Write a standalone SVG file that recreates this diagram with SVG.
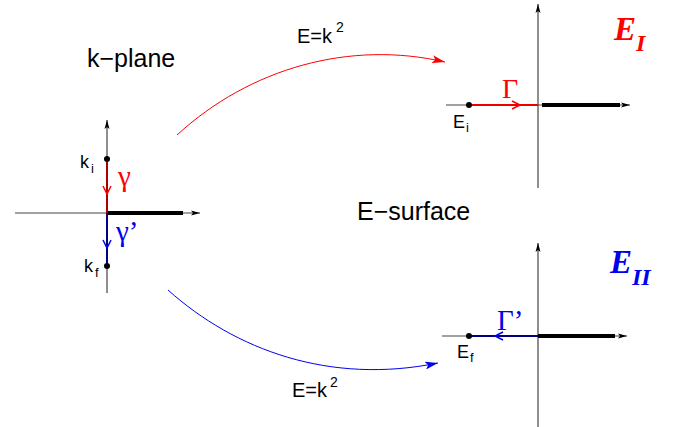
<svg xmlns="http://www.w3.org/2000/svg" width="674" height="427" viewBox="0 0 674 427">
<defs>
<style>
.ax{stroke:#444;stroke-width:1.2;fill:none}
.thick{stroke:#000;stroke-width:4;fill:none}
.sans{font-family:"Liberation Sans",Arial,sans-serif;fill:#000}
.serif{font-family:"Liberation Serif","Times New Roman",serif}
.red{fill:#ff0000}
.blue{fill:#0000ee}
</style>
<marker id="axh" markerWidth="10" markerHeight="6" refX="9" refY="3" orient="auto" markerUnits="userSpaceOnUse"><path d="M0,0.5 L9,3 L0,5.5 L2,3 Z" fill="#000"/></marker>
<marker id="redh" markerWidth="14" markerHeight="8" refX="13" refY="4" orient="auto" markerUnits="userSpaceOnUse"><path d="M0,0 L13,4 L0,8 L3,4 Z" fill="#ff0000"/></marker>
<marker id="blueh" markerWidth="14" markerHeight="8" refX="13" refY="4" orient="auto" markerUnits="userSpaceOnUse"><path d="M0,0 L13,4 L0,8 L3,4 Z" fill="#0000ee"/></marker>
</defs>
<rect width="674" height="427" fill="#fff"/>

<g id="k-plane">
<text class="sans" x="87" y="67" font-size="25">k−plane</text>
<line class="ax" x1="15" y1="213" x2="200" y2="213" marker-end="url(#axh)"/>
<line class="ax" x1="107" y1="293" x2="107" y2="120" marker-end="url(#axh)"/>
<line class="thick" x1="107" y1="213" x2="183" y2="213"/>
<line x1="107" y1="159" x2="107" y2="213" stroke="#aa0000" stroke-width="2"/>
<polyline points="103,186 107,194 111,186" fill="none" stroke="#ff0000" stroke-width="1.5"/>
<line x1="107" y1="213" x2="107" y2="266" stroke="#000080" stroke-width="2"/>
<polyline points="103,240 107,248 111,240" fill="none" stroke="#0000ee" stroke-width="1.5"/>
<circle cx="107" cy="159" r="3" fill="#000"/>
<circle cx="107" cy="266" r="3" fill="#000"/>
<text class="sans" x="80" y="168" font-size="18">k<tspan font-size="13" dx="2" dy="5">i</tspan></text>
<text class="sans" x="84" y="272" font-size="18">k<tspan font-size="13" dx="2" dy="5">f</tspan></text>
<text class="serif red" x="118" y="186" font-size="29">γ</text>
<text class="serif blue" x="116" y="241" font-size="29">γ’</text>
</g>

<g id="E-I">
<line class="ax" x1="446" y1="105" x2="630" y2="105" marker-end="url(#axh)"/>
<line class="ax" x1="538" y1="188" x2="538" y2="4" marker-end="url(#axh)"/>
<line class="thick" x1="542" y1="105" x2="620" y2="105"/>
<line x1="469" y1="105" x2="538" y2="105" stroke="#ee0000" stroke-width="2"/>
<polyline points="512,101 520,105 512,109" fill="none" stroke="#ff0000" stroke-width="1.5"/>
<circle cx="469" cy="105" r="3" fill="#000"/>
<text class="serif red" x="502" y="98" font-size="28">Γ</text>
<text class="sans" x="453" y="128" font-size="18">E<tspan font-size="13" dx="1" dy="4">i</tspan></text>
<text class="serif red" x="614" y="40" font-size="33" font-style="italic" font-weight="bold">E<tspan font-size="24" dy="11">I</tspan></text>
</g>

<g id="E-II">
<line class="ax" x1="442" y1="336" x2="627" y2="336" marker-end="url(#axh)"/>
<line class="ax" x1="538" y1="427" x2="538" y2="243" marker-end="url(#axh)"/>
<line class="thick" x1="538" y1="336" x2="615" y2="336"/>
<line x1="469" y1="336" x2="538" y2="336" stroke="#000080" stroke-width="2"/>
<polyline points="503,332 495,336 503,340" fill="none" stroke="#0000ee" stroke-width="1.5"/>
<circle cx="469" cy="336" r="3" fill="#000"/>
<text class="serif blue" x="497" y="330" font-size="29">Γ’</text>
<text class="sans" x="457" y="358" font-size="18">E<tspan font-size="13" dx="1" dy="4">f</tspan></text>
<text class="serif blue" x="610" y="273" font-size="33" font-style="italic" font-weight="bold">E<tspan font-size="24" dy="12">II</tspan></text>
</g>

<text class="sans" x="357" y="220" font-size="25">E−surface</text>

<g id="connectors">
<path d="M177,135 C250,68 350,40 445,62" fill="none" stroke="#ff0000" stroke-width="1" marker-end="url(#redh)"/>
<path d="M168,290 C235,350 330,385 438,363" fill="none" stroke="#0000ee" stroke-width="1" marker-end="url(#blueh)"/>
<text class="sans" x="297" y="43" font-size="20">E=k<tspan font-size="14" dy="-11" dx="4">2</tspan></text>
<text class="sans" x="292" y="397" font-size="20">E=k<tspan font-size="14" dy="-10" dx="3">2</tspan></text>
</g>
</svg>
